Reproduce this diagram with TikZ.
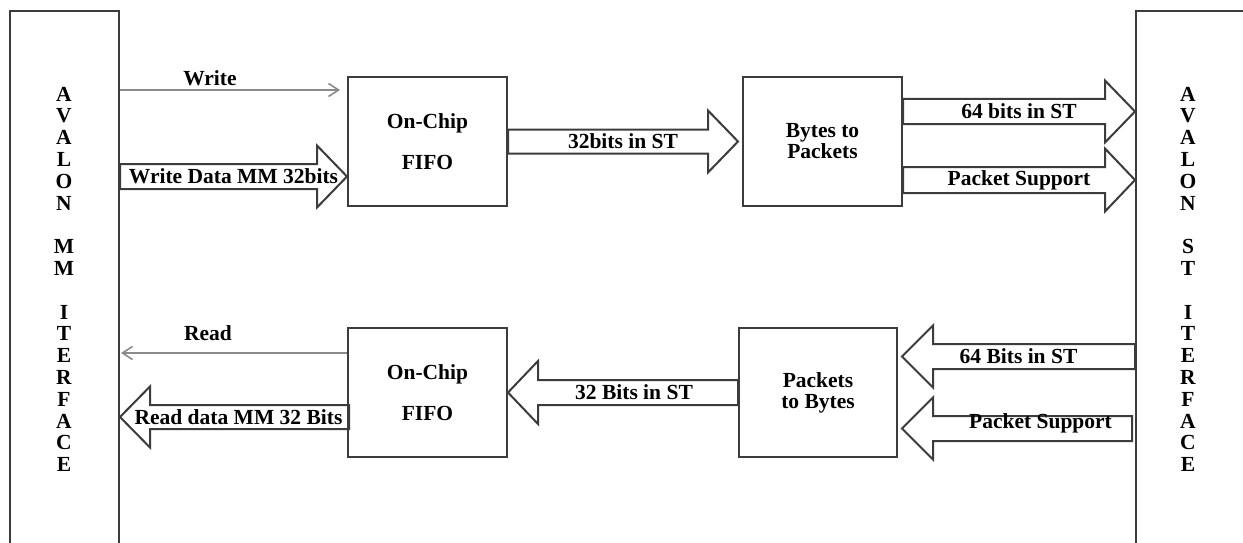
\documentclass[tikz,border=0pt]{standalone}
\usepackage{fontspec}
\setmainfont{Liberation Serif}
\usetikzlibrary{arrows.meta,calc}

\definecolor{boxgray}{HTML}{3C3C3C}
\definecolor{linegray}{HTML}{8A8A8A}

\newcommand\lblfont{\fontsize{21.5}{21}\bfseries\selectfont}
\newcommand\fifofont{\fontsize{21.5}{41}\bfseries\selectfont}

% wide hollow arrow: tail, tip, half shaft width, half head width, head length
\newcommand\fatarrow[5]{%
  \draw[fat] let \p1=(#1), \p2=(#2), \n1={sign(\x2-\x1)*#5} in
    (\x1,{\y1+#3}) -- ({\x2-\n1},{\y1+#3}) -- ({\x2-\n1},{\y1+#4})
    -- (\x2,\y1) -- ({\x2-\n1},{\y1-#4}) -- ({\x2-\n1},{\y1-#3})
    -- (\x1,{\y1-#3}) -- cycle;}

\tikzset{
  blk/.style={draw=boxgray, line width=2pt, minimum width=159pt,
    minimum height=129pt, inner sep=0pt, align=center, font=\lblfont},
  side/.style={draw=boxgray, line width=2pt, minimum width=220pt,
    minimum height=700pt, inner sep=0pt, anchor=north west},
  fat/.style={draw=boxgray, line width=2pt, line join=miter},
  thinsig/.style={draw=linegray, line width=1.6pt,
    -{Straight Barb[length=10pt,width=13pt,line width=1.6pt]}},
  lbl/.style={inner sep=0pt, font=\lblfont},
  vletter/.style={inner sep=0pt, font=\lblfont},
}

\begin{document}
\begin{tikzpicture}[x=1pt,y=-1pt]
  \clip (0,0) rectangle (1243,543);
  \fill[white] (0,0) rectangle (1243,543);

  % interface blocks (run past the lower edge)
  \node[side, minimum width=109pt] (mm) at (9,10) {};
  \node[side] (st) at (1135,10) {};

  \foreach \c/\k in {A/0,V/1,A/2,L/3,O/4,N/5,M/7,M/8,I/10,T/11,E/12,R/13,F/14,A/15,C/16,E/17}
    \node[vletter] (mmc\k) at (64,{94+21.8*\k}) {\c};
  \foreach \c/\k in {A/0,V/1,A/2,L/3,O/4,N/5,S/7,T/8,I/10,T/11,E/12,R/13,F/14,A/15,C/16,E/17}
    \node[vletter] (stc\k) at (1188,{94+21.8*\k}) {\c};

  % processing blocks
  \node[blk, font=\fifofont] (fifo1) at (427.5,141.5) {On-Chip\\FIFO};
  \node[blk] (b2p) at (822.5,141.5) {Bytes to\\Packets};
  \node[blk, font=\fifofont] (fifo2) at (427.5,392.5) {On-Chip\\FIFO};
  \node[blk, minimum width=158pt] (p2b) at (818,392.5) {Packets\\to Bytes};

  % write path
  \coordinate (wrTip) at ([yshift=51.5pt]fifo1.west);
  \draw[thinsig, shorten >=7pt] (wrTip -| mm.east) -- (wrTip);
  \node[lbl] (wrL) at (210,78) {Write};

  \coordinate (wdTip) at ([yshift=-35pt]fifo1.west);
  \fatarrow{wdTip -| mm.east}{wdTip}{12.5pt}{31pt}{30pt}
  \node[lbl] (wdL) at ($(wdTip -| mm.east)!0.5!(wdTip)$) {Write Data MM 32bits};

  \coordinate (s32Tip) at ([xshift=-4pt]b2p.west);
  \fatarrow{fifo1.east}{s32Tip}{12pt}{31pt}{30pt}
  \node[lbl] (s32L) at ($(fifo1.east)!0.5!(s32Tip)$) {32bits in ST};

  \coordinate (o64Tail) at ([yshift=30pt]b2p.east);
  \fatarrow{o64Tail}{o64Tail -| st.west}{12.5pt}{31pt}{30pt}
  \node[lbl] (o64L) at ($(o64Tail)!0.5!(o64Tail -| st.west)$) {64 bits in ST};

  \coordinate (opsTail) at ([yshift=-38.5pt]b2p.east);
  \fatarrow{opsTail}{opsTail -| st.west}{13pt}{31.5pt}{30pt}
  \node[lbl] (opsL) at ($(opsTail)!0.5!(opsTail -| st.west)$) {Packet Support};

  % read path
  \coordinate (rdTail) at ([yshift=39.5pt]fifo2.west);
  \draw[thinsig, shorten >=1pt] (rdTail) -- (rdTail -| mm.east);
  \node[lbl] (rdL) at (208,333) {Read};

  \coordinate (rdaTail) at ([yshift=-24.5pt,xshift=2pt]fifo2.west);
  \fatarrow{rdaTail}{rdaTail -| mm.east}{12pt}{30.5pt}{30pt}
  \node[lbl] (rdaL) at ([xshift=4pt]$(rdaTail)!0.5!(rdaTail -| mm.east)$) {Read data MM 32 Bits};

  \fatarrow{p2b.west}{fifo2.east}{12.5pt}{31.5pt}{30pt}
  \node[lbl] (i32L) at ([xshift=11pt]$(p2b.west)!0.5!(fifo2.east)$) {32 Bits in ST};

  \coordinate (i64Tip) at ([yshift=36pt,xshift=4pt]p2b.east);
  \fatarrow{i64Tip -| st.west}{i64Tip}{12.5pt}{31pt}{31pt}
  \node[lbl] (i64L) at ($(i64Tip -| st.west)!0.5!(i64Tip)$) {64 Bits in ST};

  \coordinate (ipsTip) at ([yshift=-36pt,xshift=4pt]p2b.east);
  \coordinate (ipsTail) at ([xshift=-3pt]ipsTip -| st.west);
  \fatarrow{ipsTail}{ipsTip}{12.5pt}{31pt}{31pt}
  \node[lbl] (ipsL) at ([xshift=23.5pt,yshift=5.5pt]$(ipsTail)!0.5!(ipsTip)$) {Packet Support};
\end{tikzpicture}
\end{document}
